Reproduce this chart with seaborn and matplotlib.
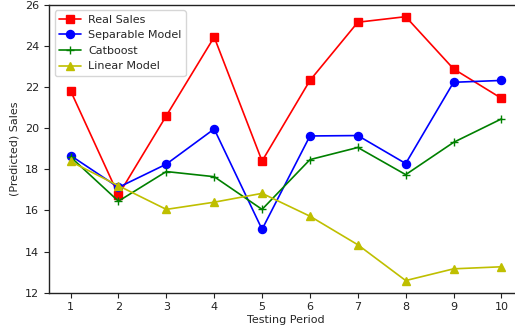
import matplotlib
matplotlib.use("Agg")
import matplotlib.pyplot as plt
import seaborn as sns
import pandas as pd

periods = [1, 2, 3, 4, 5, 6, 7, 8, 9, 10]
real_sales = [21.82, 16.75, 20.6, 24.43, 18.4, 22.32, 25.15, 25.42, 22.88, 21.45]
separable_model = [18.67, 17.12, 18.25, 19.96, 15.08, 19.62, 19.64, 18.28, 22.23, 22.32]
catboost = [18.6, 16.45, 17.89, 17.64, 16.05, 18.47, 19.06, 17.74, 19.31, 20.45]
linear_model = [18.38, 17.2, 16.05, 16.4, 16.83, 15.72, 14.33, 12.59, 13.16, 13.26]

series = [
    ("Real Sales", real_sales, "r", "s", 5.5),
    ("Separable Model", separable_model, "b", "o", 5.8),
    ("Catboost", catboost, "g", "+", 6),
    ("Linear Model", linear_model, "y", "^", 6),
]

sns.set_style("ticks")
plt.rcParams["font.family"] = ["DejaVu Sans"]
plt.rcParams["font.size"] = 8

fig = plt.figure(figsize=(5.15, 3.25), dpi=100)
ax = fig.add_axes([49 / 515, 0.0994, (523 - 49) / 515, 0.886])

for name, vals, color, marker, ms in series:
    df = pd.DataFrame({"period": periods, "value": vals})
    sns.lineplot(data=df, x="period", y="value", ax=ax, color=color,
                 marker=marker, markersize=ms, markeredgecolor=color,
                 markeredgewidth=1.0, linewidth=1.2, label=name)

ax.set_xlim(0.55, 10.45)
ax.set_ylim(12, 26)
ax.set_xticks(periods)
ax.set_yticks([12, 14, 16, 18, 20, 22, 24, 26])
ax.set_xlabel("Testing Period", fontsize=8, labelpad=2)
ax.set_ylabel("(Predicted) Sales", fontsize=8)
ax.tick_params(labelsize=8, length=3.5, width=0.8, colors="#222222")
for s in ax.spines.values():
    s.set_visible(True)
    s.set_color("#222222")
    s.set_linewidth(1.0)

leg = ax.legend(loc="upper left", fontsize=8, frameon=True, fancybox=True,
                framealpha=0.8, edgecolor="#cccccc", handletextpad=0.6)

fig.savefig("out.png", dpi=100)
